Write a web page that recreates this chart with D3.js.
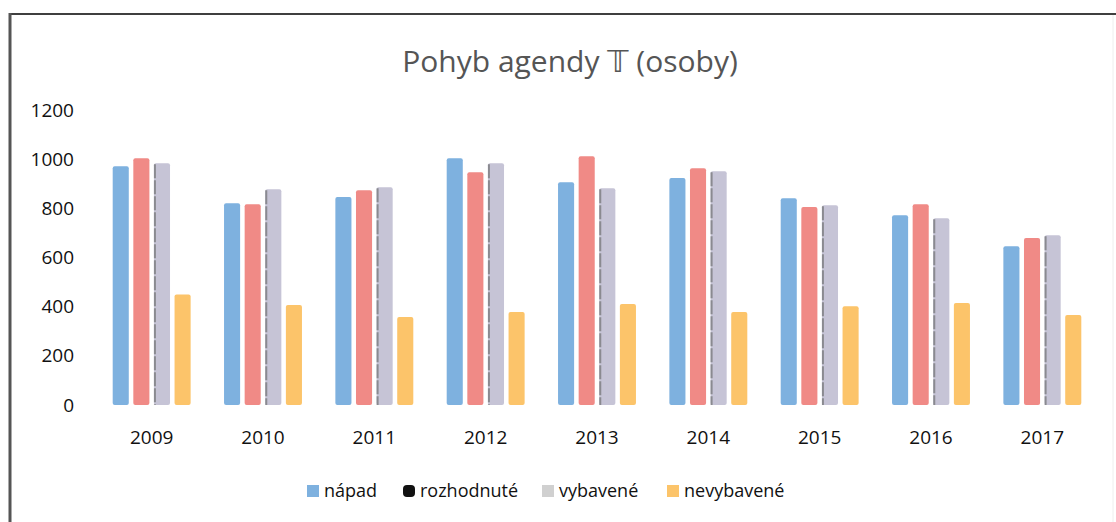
<!DOCTYPE html>
<html>
<head>
<meta charset="utf-8">
<script src="https://cdn.jsdelivr.net/npm/d3@7"></script>
<style>
  body { margin: 0; background: #fff; }
  svg { display: block; font-family: "Open Sans", "DejaVu Sans", sans-serif; }
</style>
</head>
<body>
<svg id="chart"></svg>
<script>
// chart data
const years = ["2009", "2010", "2011", "2012", "2013", "2014", "2015", "2016", "2017"];
const seriesNames = ["nápad", "rozhodnuté", "vybavené", "nevybavené"];
const napad = [971, 821, 846, 1004, 906, 923, 841, 772, 646];
const rozhodnute = [1004, 817, 874, 947, 1012, 963, 805, 817, 679];
const vybavene = [983, 878, 886, 983, 882, 951, 813, 760, 691];
const nevybavene = [449, 407, 358, 378, 411, 378, 402, 415, 366];
const yTicks = [0, 200, 400, 600, 800, 1000, 1200];

const colors = ["#7eb1df", "#f08a86", "#c6c4d6", "#fcc46a"];
const legendMarks = ["#7eb1df", "#111111", "#d0d0d0", "#fcc46a"];

const width = 1116, height = 522;
const margin = { top: 110, right: 18, bottom: 117, left: 96 };

const svg = d3.select("#chart").attr("width", width).attr("height", height);

// frame (scanned border look)
svg.append("line").attr("x1", 9).attr("x2", width).attr("y1", 14).attr("y2", 14)
  .attr("stroke", "#3f3f3f").attr("stroke-width", 2);
svg.append("line").attr("x1", 10).attr("x2", 10).attr("y1", 13).attr("y2", height)
  .attr("stroke", "#555").attr("stroke-width", 3);
svg.append("line").attr("x1", 1113).attr("x2", 1113).attr("y1", 15).attr("y2", height)
  .attr("stroke", "#eee").attr("stroke-width", 1);

const rows = years.map((y, i) => ({
  year: y,
  values: [napad[i], rozhodnute[i], vybavene[i], nevybavene[i]]
}));

const x0 = d3.scaleBand().domain(years)
  .range([margin.left, width - margin.right]).paddingInner(0.3).paddingOuter(0.15);
const x1 = d3.scaleBand().domain(d3.range(seriesNames.length))
  .range([0, x0.bandwidth()]).paddingInner(0.22);
const y = d3.scaleLinear().domain([0, 1200]).range([height - margin.bottom, margin.top]);

// title
svg.append("text")
  .attr("x", 570).attr("y", 72)
  .attr("text-anchor", "middle")
  .attr("font-size", 30)
  .attr("fill", "#555")
  .text("Pohyb agendy \u{1D54B} (osoby)");

// y axis labels
const yAxis = d3.axisLeft(y).tickValues(yTicks).tickFormat(d3.format("d")).tickSize(0).tickPadding(0);
const gy = svg.append("g").attr("transform", `translate(74,0)`).call(yAxis);
gy.select(".domain").remove();
gy.selectAll("text").attr("font-size", 19).attr("fill", "#111")
  .attr("font-family", "'Open Sans', sans-serif");

// bars
const groups = svg.append("g").selectAll("g")
  .data(rows).join("g")
  .attr("transform", d => `translate(${x0(d.year)},0)`);

groups.selectAll("rect")
  .data(d => d.values.map((v, k) => ({ k, v })))
  .join("rect")
  .attr("x", d => x1(d.k))
  .attr("y", d => y(d.v))
  .attr("width", x1.bandwidth())
  .attr("height", d => y(0) - y(d.v))
  .attr("rx", 2)
  .attr("fill", d => colors[d.k]);

// darker left edge on vybavené bars
groups.selectAll("line.edge")
  .data(d => [{ v: d.values[2] }])
  .join("line")
  .attr("class", "edge")
  .attr("x1", x1(2) + 1).attr("x2", x1(2) + 1)
  .attr("y1", d => y(d.v) + 1).attr("y2", y(0))
  .attr("stroke", "#8a8a90").attr("stroke-width", 2)
  .attr("stroke-dasharray", "14,2");

// x axis labels
const xAxis = d3.axisBottom(x0).tickSize(0).tickPadding(0);
const gx = svg.append("g").attr("transform", `translate(0,${height - margin.bottom + 25})`).call(xAxis);
gx.select(".domain").remove();
gx.selectAll("text").attr("font-size", 19).attr("fill", "#111")
  .attr("font-family", "'Open Sans', sans-serif");

// legend
const legendX = [307, 403, 542, 667];
const legend = svg.append("g").selectAll("g")
  .data(seriesNames).join("g")
  .attr("transform", (d, i) => `translate(${legendX[i]},491)`);
legend.append("rect")
  .attr("x", 0).attr("y", -6).attr("width", 12).attr("height", 12)
  .attr("rx", (d, i) => i === 1 ? 4 : 0)
  .attr("fill", (d, i) => legendMarks[i]);
legend.append("text")
  .attr("x", 17).attr("y", 6)
  .attr("font-size", 18).attr("fill", "#111")
  .text(d => d);
</script>
</body>
</html>
